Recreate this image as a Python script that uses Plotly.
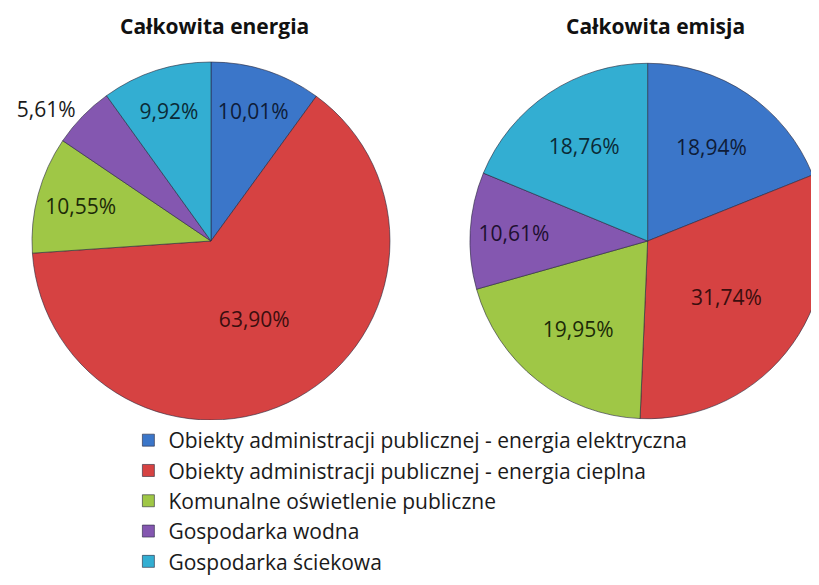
import plotly.graph_objects as go

categories = [
    "Obiekty administracji publicznej - energia elektryczna",
    "Obiekty administracji publicznej - energia cieplna",
    "Komunalne oświetlenie publiczne",
    "Gospodarka wodna",
    "Gospodarka ściekowa",
]
energy_share = [10.01, 63.90, 10.55, 5.61, 9.92]
emission_share = [18.94, 31.74, 19.95, 10.61, 18.76]
energy_labels = ["10,01%", "63,90%", "10,55%", "5,61%", "9,92%"]
emission_labels = ["18,94%", "31,74%", "19,95%", "10,61%", "18,76%"]
titles = ["Całkowita energia", "Całkowita emisja"]

colors = ["#3b76c9", "#d64242", "#9fc746", "#8457b0", "#33aed2"]
text_colors = ["#0e1c38", "#3a0e0e", "#1c2a08", "#1e1030", "#0b2a36"]
FONT = "'Open Sans', 'Noto Sans', sans-serif"

# the page body adds an 8px offset, so the paper coordinates are shifted by it
PIE_Y = [0.2957, 0.9077]


def make_pie(values, labels, domain_x, positions):
    return go.Pie(
        labels=categories,
        values=values,
        text=labels,
        textinfo="text",
        textposition=positions,
        insidetextorientation="horizontal",
        textfont=dict(family=FONT, size=21, color=text_colors),
        outsidetextfont=dict(family=FONT, size=21, color="#1a1a1a"),
        sort=False,
        direction="clockwise",
        rotation=0,
        marker=dict(colors=colors, line=dict(color="rgba(40,40,60,0.6)", width=1)),
        domain=dict(x=domain_x, y=PIE_Y),
        hoverinfo="label+text",
    )


fig = go.Figure()
fig.add_trace(make_pie(energy_share, energy_labels, [0.0293, 0.4664],
                       ["inside", "inside", "inside", "outside", "inside"]))
fig.add_trace(make_pie(emission_share, emission_labels, [0.564, 0.998], "inside"))

for x, t in zip([0.2527, 0.7912], titles):
    fig.add_annotation(text="<b>%s</b>" % t, x=x, y=0.969, xref="paper", yref="paper",
                       xanchor="center", yanchor="middle", showarrow=False,
                       font=dict(family=FONT, size=21, color="#111111"))

fig.update_layout(
    width=819,
    height=585,
    margin=dict(l=0, r=0, t=0, b=0),
    paper_bgcolor="white",
    uniformtext=dict(minsize=21, mode="show"),
    legend=dict(
        x=0.147, y=0.2957, xanchor="left", yanchor="top",
        font=dict(family=FONT, size=21, color="#1a1a1a"),
        tracegroupgap=0,
    ),
)

fig.write_html("out.html")
